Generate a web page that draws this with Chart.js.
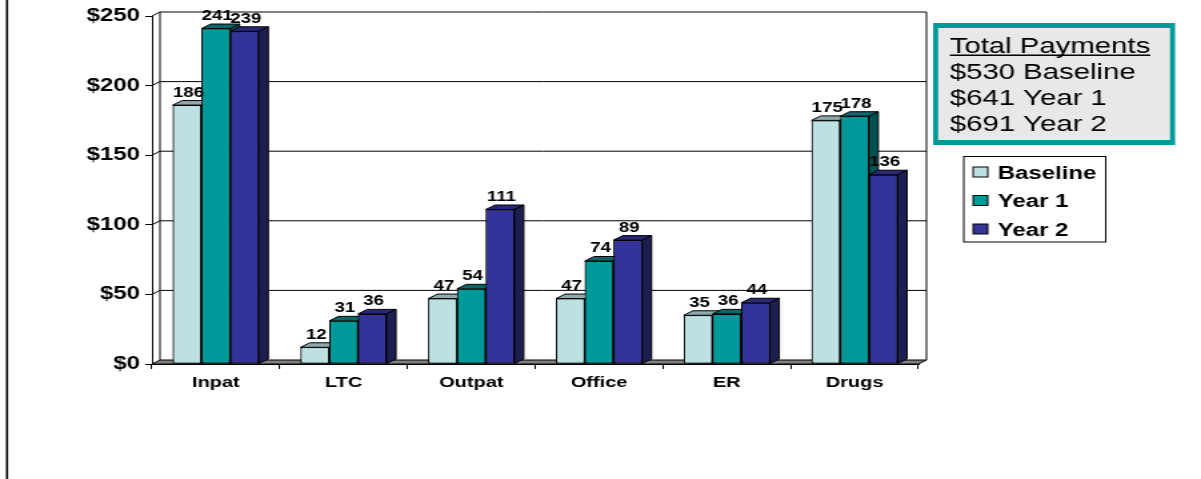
<!DOCTYPE html>
<html>
<head>
<meta charset="utf-8">
<script src="https://cdn.jsdelivr.net/npm/chart.js@4.4.1/dist/chart.umd.min.js"></script>
<style>
  html, body { margin: 0; padding: 0; background: #fff; overflow: hidden; }
  #wrap { position: absolute; left: 0; top: 0; width: 901px; height: 479px; transform: scaleX(1.333); transform-origin: 0 0; }
</style>
</head>
<body>
<div id="wrap"><canvas id="costChart" width="901" height="479"></canvas></div>
<script>
const categories = ['Inpat', 'LTC', 'Outpat', 'Office', 'ER', 'Drugs'];
const baseline = [186, 12, 47, 47, 35, 175];
const year1 = [241, 31, 54, 74, 36, 178];
const year2 = [239, 36, 111, 89, 44, 136];
const seriesNames = ['Baseline', 'Year 1', 'Year 2'];
const totals = [530, 641, 691];
const yTicks = [0, 50, 100, 150, 200, 250];

const frontColors = ['#BDE1E3', '#009999', '#333399'];
const topColors = ['#8EAAAC', '#006868', '#282878'];
const sideColors = ['#60797B', '#005252', '#1E1E52'];

const FONT = 'Arial, "Liberation Sans", sans-serif';
const WALL_DX = 6, WALL_DY = -4;
const BAR_DX = 7, BAR_DY = -4.5;

// walls, floor and the 3-D faces of each bar
const depthPlugin = {
  id: 'depth',
  beforeDatasetsDraw(chart) {
    const { ctx, chartArea: a, scales: { y } } = chart;
    ctx.save();
    ctx.fillStyle = '#fff';
    ctx.fillRect(a.left + WALL_DX, a.top + WALL_DY, a.right - a.left, a.bottom - a.top);
    ctx.strokeStyle = '#000';
    ctx.lineWidth = 1;
    y.ticks.forEach(t => {
      if (t.value === 0) return;
      const py = y.getPixelForValue(t.value);
      ctx.beginPath();
      ctx.moveTo(a.left, py);
      ctx.lineTo(a.left + WALL_DX, py + WALL_DY);
      ctx.lineTo(a.right + WALL_DX, py + WALL_DY);
      ctx.stroke();
    });
    ctx.beginPath();
    ctx.moveTo(a.left + WALL_DX, a.top + WALL_DY);
    ctx.lineTo(a.left + WALL_DX, a.bottom + WALL_DY);
    ctx.moveTo(a.right + WALL_DX, a.top + WALL_DY);
    ctx.lineTo(a.right + WALL_DX, a.bottom + WALL_DY);
    ctx.stroke();
    // floor
    ctx.beginPath();
    ctx.moveTo(a.left, a.bottom);
    ctx.lineTo(a.right, a.bottom);
    ctx.lineTo(a.right + WALL_DX, a.bottom + WALL_DY);
    ctx.lineTo(a.left + WALL_DX, a.bottom + WALL_DY);
    ctx.closePath();
    ctx.fillStyle = '#808080';
    ctx.fill();
    ctx.stroke();
    ctx.restore();
  },
  afterDatasetsDraw(chart) {
    const ctx = chart.ctx;
    ctx.save();
    ctx.strokeStyle = '#000';
    ctx.lineWidth = 1;
    // redraw left to right so each bar hides the side face of its neighbour
    chart.data.datasets.forEach((ds, i) => {
      chart.getDatasetMeta(i).data.forEach(bar => {
        bar.draw(ctx, chart.chartArea);
        const { x, y, base, width } = bar.getProps(['x', 'y', 'base', 'width'], true);
        const l = x - width / 2, r = x + width / 2;
        ctx.save();
        ctx.strokeStyle = '#000';
        ctx.lineWidth = 1;
        ctx.beginPath();
        ctx.moveTo(l, y);
        ctx.lineTo(l + BAR_DX, y + BAR_DY);
        ctx.lineTo(r + BAR_DX, y + BAR_DY);
        ctx.lineTo(r, y);
        ctx.closePath();
        ctx.fillStyle = topColors[i];
        ctx.fill();
        ctx.stroke();
        ctx.beginPath();
        ctx.moveTo(r, y);
        ctx.lineTo(r + BAR_DX, y + BAR_DY);
        ctx.lineTo(r + BAR_DX, base + BAR_DY);
        ctx.lineTo(r, base);
        ctx.closePath();
        ctx.fillStyle = sideColors[i];
        ctx.fill();
        ctx.stroke();
        ctx.restore();
      });
    });

    ctx.font = 'bold 14px ' + FONT;
    ctx.fillStyle = '#000';
    ctx.textAlign = 'center';
    ctx.textBaseline = 'alphabetic';
    chart.data.datasets.forEach((ds, i) => {
      chart.getDatasetMeta(i).data.forEach((bar, j) => {
        const { x, y } = bar.getProps(['x', 'y'], true);
        ctx.fillText(String(ds.data[j]), x + 1, y + BAR_DY - 4);
      });
    });
    ctx.restore();
  },
  afterDraw(chart) {
    const ctx = chart.ctx;
    ctx.save();
    // page frame line on the left
    ctx.fillStyle = '#000';
    ctx.fillRect(4.5, 0, 1.6, chart.height);

    // totals box
    const bx = 700, by = 23, bw = 181.5, bh = 122;
    ctx.fillStyle = '#009999';
    ctx.fillRect(bx, by, bw, bh);
    ctx.fillStyle = '#E8E8E8';
    ctx.fillRect(bx + 3.75, by + 5, bw - 7.5, bh - 10);
    ctx.fillStyle = '#000';
    ctx.font = '22px ' + FONT;
    ctx.textAlign = 'left';
    ctx.textBaseline = 'alphabetic';
    const tx = 712.5;
    const head = 'Total Payments';
    ctx.fillText(head, tx, 53);
    ctx.fillRect(tx, 54.5, ctx.measureText(head).width, 1.5);
    totals.forEach((t, k) => {
      ctx.fillText('$' + t + ' ' + seriesNames[k], tx, 79 + k * 26);
    });

    // legend
    const lx = 723, ly = 156.5, lw = 106.5, lh = 85.5;
    ctx.fillStyle = '#fff';
    ctx.fillRect(lx, ly, lw, lh);
    ctx.strokeStyle = '#000';
    ctx.lineWidth = 1;
    ctx.strokeRect(lx, ly, lw, lh);
    ctx.font = 'bold 18px ' + FONT;
    seriesNames.forEach((name, k) => {
      const cy = 172 + k * 28.5;
      ctx.fillStyle = frontColors[k];
      ctx.fillRect(730, cy - 5, 11, 10);
      ctx.strokeRect(730, cy - 5, 11, 10);
      ctx.fillStyle = '#000';
      ctx.fillText(name, 748.5, cy + 6.5);
    });
    ctx.restore();
  }
};

new Chart(document.getElementById('costChart'), {
  type: 'bar',
  data: {
    labels: categories,
    datasets: [baseline, year1, year2].map((values, i) => ({
      label: seriesNames[i],
      data: values,
      backgroundColor: frontColors[i],
      borderColor: '#000',
      borderWidth: 1,
      borderSkipped: false,
      categoryPercentage: 0.675,
      barPercentage: 1
    }))
  },
  options: {
    responsive: false,
    animation: false,
    layout: { padding: { top: 16, right: 212, left: 0, bottom: 0 } },
    plugins: { legend: { display: false }, tooltip: { enabled: false } },
    scales: {
      x: {
        grid: { drawOnChartArea: false, drawTicks: true, tickLength: 5, offset: true, color: '#000' },
        border: { display: true, color: '#000', width: 1 },
        ticks: { font: { family: FONT, size: 15, weight: 'bold' }, color: '#000', padding: 5, maxRotation: 0 },
        afterFit(s) { s.height = 115; }
      },
      y: {
        min: 0,
        max: 250,
        afterBuildTicks(s) { s.ticks = yTicks.map(v => ({ value: v })); },
        grid: { drawOnChartArea: false, drawTicks: true, tickLength: 5, color: '#000' },
        border: { display: true, color: '#000', width: 1 },
        ticks: { callback: v => '$' + v, font: { family: FONT, size: 18, weight: 'bold' }, color: '#000', padding: 4 },
        afterFit(s) { s.width = 114; }
      }
    }
  },
  plugins: [depthPlugin]
});
</script>
</body>
</html>
